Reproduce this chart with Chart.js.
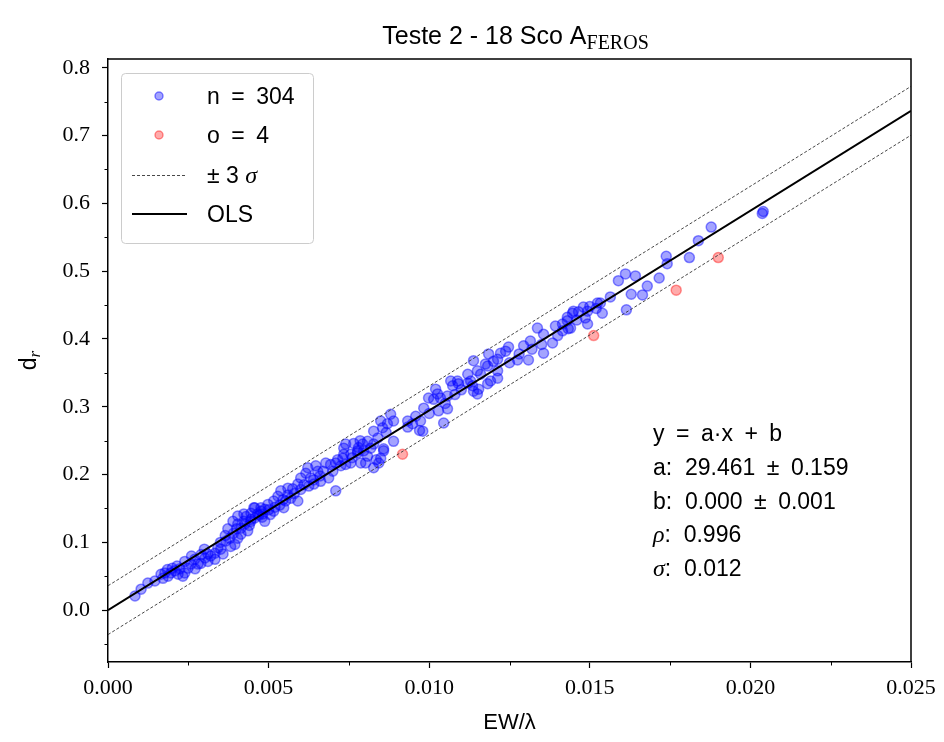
<!DOCTYPE html>
<html>
<head>
<meta charset="utf-8">
<script src="https://cdn.jsdelivr.net/npm/chart.js@4.4.0/dist/chart.umd.min.js"></script>
<style>
  html, body { margin: 0; padding: 0; background: #fff; }
  #wrap { width: 944px; height: 742px; }
</style>
</head>
<body>
<div id="wrap"><canvas id="chart" width="944" height="742"></canvas></div>
<script>
// inliers (n = 304)
const inlierX = [
  0.00084,0.00103,0.00124,0.00146,0.00165,0.00177,0.00187,0.00171,
  0.00196,0.00208,0.00218,0.00224,0.00239,0.00233,0.00249,0.00258,
  0.00271,0.00239,0.00280,0.00289,0.00302,0.00311,0.00320,0.00333,
  0.00311,0.00333,0.00342,0.00351,0.00358,0.00367,0.00379,0.00382,
  0.00395,0.00404,0.00373,0.00414,0.00414,0.00426,0.00435,0.00445,
  0.00457,0.00466,0.00476,0.00488,0.00457,0.00488,0.00389,0.00404,
  0.00423,0.00445,0.00300,0.00290,0.00270,0.00260,0.00350,0.00365,
  0.00390,0.00400,0.00430,0.00440,0.00215,0.00200,0.00185,0.00470,
  0.00480,0.00454,0.00445,0.00423,0.00404,0.00482,0.00476,0.00498,
  0.00516,0.00529,0.00538,0.00560,0.00575,0.00591,0.00641,0.00662,
  0.00569,0.00591,0.00553,0.00516,0.00547,0.00500,0.00505,0.00520,
  0.00535,0.00545,0.00560,0.00580,0.00600,0.00610,0.00625,0.00640,
  0.00660,0.00670,0.00700,0.00715,0.00740,0.00760,0.00780,0.00709,
  0.00600,0.00631,0.00687,0.00616,0.00653,0.00622,0.00647,0.00678,
  0.00693,0.00709,0.00725,0.00740,0.00765,0.00793,0.00777,0.00756,
  0.00734,0.00796,0.00858,0.00843,0.00835,0.00808,0.00802,0.00731,
  0.00756,0.00787,0.00827,0.00849,0.00827,0.00808,0.00785,0.00734,
  0.00777,0.00818,
  0.00889,0.00858,0.00827,0.00840,0.00849,0.00855,0.00866,0.00880,
  0.00889,0.00870,0.00933,0.00970,0.00973,0.00980,0.01045,0.01057,
  0.01029,0.00998,0.00983,0.00958,0.00948,0.00933,0.01020,0.01026,
  0.01035,0.01014,0.01057,0.01138,0.01150,0.01135,0.01067,0.01091,
  0.01120,0.01000,0.01050,0.01100,0.01080,0.01088,0.01073,0.01129,
  0.01154,
  0.01160,0.01191,0.01213,0.01175,0.01185,0.01213,0.01138,0.01150,
  0.01120,0.01213,0.01182,0.01200,0.01182,0.01247,0.01238,0.01222,
  0.01356,0.01309,0.01275,0.01315,0.01294,0.01384,0.01337,0.01356,
  0.01433,0.01415,0.01393,0.01493,0.01480,0.01465,0.01446,0.01486,
  0.01524,0.01539,0.01250,0.01280,0.01320,0.01350,0.01400,0.01430,
  0.01460,0.01500,0.01520,0.01430,0.01440,0.01415,0.01449,0.01493,
  0.01533,
  0.01564,0.01589,0.01611,0.01642,0.01614,0.01629,0.01664,0.01679,
  0.01716,0.01741,0.01738,0.01810,0.01838,0.01878,0.02037,0.02040
];
const inlierY = [
  0.021,0.031,0.040,0.043,0.053,0.055,0.050,0.047,
  0.055,0.058,0.053,0.061,0.055,0.050,0.062,0.068,
  0.061,0.072,0.068,0.069,0.077,0.083,0.080,0.084,
  0.072,0.075,0.092,0.090,0.083,0.102,0.106,0.094,
  0.097,0.106,0.120,0.112,0.121,0.127,0.117,0.131,
  0.151,0.142,0.146,0.131,0.136,0.149,0.131,0.127,
  0.131,0.134,0.090,0.082,0.075,0.080,0.100,0.110,
  0.113,0.120,0.138,0.125,0.065,0.062,0.060,0.140,
  0.137,0.151,0.143,0.142,0.139,0.142,0.151,0.156,
  0.161,0.168,0.176,0.180,0.179,0.186,0.186,0.190,
  0.165,0.161,0.161,0.146,0.151,0.148,0.141,0.152,
  0.155,0.163,0.170,0.172,0.178,0.185,0.183,0.192,
  0.198,0.205,0.205,0.222,0.215,0.225,0.240,0.176,
  0.195,0.195,0.195,0.202,0.205,0.210,0.213,0.217,
  0.215,0.217,0.213,0.245,0.246,0.245,0.235,0.230,
  0.230,0.235,0.235,0.217,0.222,0.227,0.217,0.224,
  0.217,0.217,0.210,0.224,0.245,0.249,0.250,0.239,
  0.232,0.239,
  0.249,0.238,0.264,0.254,0.279,0.269,0.262,0.289,
  0.279,0.275,0.270,0.265,0.279,0.264,0.276,0.297,
  0.294,0.313,0.298,0.286,0.275,0.279,0.326,0.319,
  0.313,0.311,0.316,0.323,0.319,0.331,0.338,0.334,
  0.335,0.290,0.305,0.325,0.318,0.338,0.331,0.338,
  0.326,
  0.348,0.338,0.342,0.363,0.378,0.370,0.368,0.353,
  0.348,0.353,0.360,0.367,0.334,0.388,0.382,0.379,
  0.379,0.369,0.369,0.397,0.390,0.394,0.416,0.407,
  0.415,0.412,0.419,0.422,0.447,0.440,0.438,0.431,
  0.453,0.438,0.365,0.378,0.385,0.392,0.405,0.432,
  0.428,0.448,0.445,0.427,0.416,0.422,0.441,0.441,
  0.453,
  0.462,0.486,0.496,0.493,0.443,0.466,0.465,0.478,
  0.490,0.511,0.522,0.520,0.545,0.565,0.585,0.588
];

// outliers (o = 4)
const outlierX = [0.00917, 0.01512, 0.01769, 0.01900];
const outlierY = [0.230, 0.405, 0.472, 0.520];

// fit: y = a*x + b, with sigma of residuals
const fitA = 29.461;
const fitB = 0.000;
const fitSigma = 0.012;
const lineX = [0, 0.025];

const xTicks = [0, 0.005, 0.010, 0.015, 0.020, 0.025];
const yTicks = [0, 0.1, 0.2, 0.3, 0.4, 0.5, 0.6, 0.7, 0.8];
const xMinor = [0.0025, 0.0075, 0.0125, 0.0175, 0.0225];
const yMinor = [-0.05, 0.05, 0.15, 0.25, 0.35, 0.45, 0.55, 0.65, 0.75];

const SP = '\u2002';
const statLines = [
    'y' + SP + '=' + SP + 'a\u00b7x' + SP + '+' + SP + 'b',
    'a:  29.461' + SP + '\u00b1' + SP + '0.159',
    'b:  0.000' + SP + '\u00b1' + SP + '0.001'
];
const statRho = '0.996';
const statSigma = '0.012';

const SANS = '"Liberation Sans", Arial, sans-serif';
const SERIF = '"Liberation Serif", "DejaVu Serif", serif';

const BLUE_FILL = 'rgba(0,0,255,0.36)';
const BLUE_EDGE = 'rgba(0,0,255,0.45)';
const RED_FILL = 'rgba(255,0,0,0.33)';
const RED_EDGE = 'rgba(255,0,0,0.4)';

const toPoints = (xs, ys) => xs.map((x, i) => ({ x: x, y: ys[i] }));
const fitLine = (shift) => lineX.map(x => ({ x: x, y: fitA * x + fitB + shift }));

// draw a run of text pieces with different fonts on one baseline
function drawRuns(ctx, runs, x, y, align) {
    let total = 0;
    runs.forEach(r => { ctx.font = r.font; total += ctx.measureText(r.text).width; });
    let cx = align === 'center' ? x - total / 2 : x;
    runs.forEach(r => {
        ctx.font = r.font;
        ctx.fillText(r.text, cx, y + (r.dy || 0));
        cx += ctx.measureText(r.text).width;
    });
}

const decorations = {
    id: 'decorations',
    afterDraw(chart) {
        const ctx = chart.ctx;
        const a = chart.chartArea;
        const xs = chart.scales.x, ys = chart.scales.y;
        ctx.save();

        // top and right spines
        ctx.strokeStyle = '#000';
        ctx.lineWidth = 1.5;
        ctx.beginPath();
        ctx.moveTo(a.left, a.top); ctx.lineTo(a.right, a.top); ctx.lineTo(a.right, a.bottom);
        ctx.stroke();

        // minor ticks
        ctx.lineWidth = 1;
        ctx.beginPath();
        xMinor.forEach(v => {
            const px = Math.round(xs.getPixelForValue(v)) + 0.5;
            ctx.moveTo(px, a.bottom); ctx.lineTo(px, a.bottom + 3.5);
        });
        yMinor.forEach(v => {
            const py = Math.round(ys.getPixelForValue(v)) + 0.5;
            ctx.moveTo(a.left, py); ctx.lineTo(a.left - 3.5, py);
        });
        ctx.stroke();

        ctx.fillStyle = '#000';
        ctx.textBaseline = 'alphabetic';
        ctx.textAlign = 'left';

        // title
        const mid = (a.left + a.right) / 2;
        drawRuns(ctx, [
            { text: 'Teste 2 - 18 Sco A', font: '25px ' + SANS },
            { text: 'FEROS', font: '20px ' + SERIF, dy: 5 }
        ], mid + 6, 44, 'center');

        // axis titles
        drawRuns(ctx, [{ text: 'EW/\u03bb', font: '22px ' + SANS }], mid, 729, 'center');
        ctx.save();
        ctx.translate(36, (a.top + a.bottom) / 2);
        ctx.rotate(-Math.PI / 2);
        drawRuns(ctx, [
            { text: 'd', font: '23px ' + SANS },
            { text: 'r', font: 'italic 17px ' + SERIF, dy: 4 }
        ], 0, 0, 'center');
        ctx.restore();

        // legend box
        const bx = 121, by = 73, bw = 192, bh = 170;
        ctx.fillStyle = 'rgba(255,255,255,0.8)';
        ctx.strokeStyle = '#cccccc';
        ctx.lineWidth = 1;
        ctx.beginPath();
        ctx.roundRect(bx + 0.5, by + 0.5, bw, bh, 4);
        ctx.fill(); ctx.stroke();

        const rows = [96, 135, 175, 214];
        ctx.lineWidth = 1.5;
        ctx.fillStyle = BLUE_FILL;
        ctx.strokeStyle = BLUE_EDGE;
        ctx.beginPath(); ctx.arc(159, rows[0], 4, 0, Math.PI * 2); ctx.fill(); ctx.stroke();
        ctx.fillStyle = RED_FILL;
        ctx.strokeStyle = RED_EDGE;
        ctx.beginPath(); ctx.arc(159, rows[1], 4, 0, Math.PI * 2); ctx.fill(); ctx.stroke();

        ctx.strokeStyle = '#333';
        ctx.lineWidth = 0.9;
        ctx.setLineDash([3, 2]);
        ctx.beginPath(); ctx.moveTo(132, rows[2] + 0.5); ctx.lineTo(187, rows[2] + 0.5); ctx.stroke();
        ctx.setLineDash([]);
        ctx.strokeStyle = '#000';
        ctx.lineWidth = 2;
        ctx.beginPath(); ctx.moveTo(132, rows[3]); ctx.lineTo(187, rows[3]); ctx.stroke();

        ctx.fillStyle = '#000';
        const lf = '23px ' + SANS;
        drawRuns(ctx, [{ text: 'n' + SP + '=' + SP + '304', font: lf }], 207, rows[0] + 8, 'left');
        drawRuns(ctx, [{ text: 'o' + SP + '=' + SP + '4', font: lf }], 207, rows[1] + 8, 'left');
        drawRuns(ctx, [
            { text: '\u00b1 3 ', font: lf },
            { text: '\u03c3', font: 'italic 24px ' + SERIF }
        ], 207, rows[2] + 8, 'left');
        drawRuns(ctx, [{ text: 'OLS', font: lf }], 207, rows[3] + 8, 'left');

        // fit statistics
        const sf = '23px ' + SANS;
        const base = [441, 475, 509, 542, 576];
        statLines.forEach((t, i) => drawRuns(ctx, [{ text: t, font: sf }], 653, base[i], 'left'));
        drawRuns(ctx, [
            { text: '\u03c1', font: 'italic 24px ' + SERIF },
            { text: ':  ' + statRho, font: sf }
        ], 653, base[3], 'left');
        drawRuns(ctx, [
            { text: '\u03c3', font: 'italic 24px ' + SERIF },
            { text: ':  ' + statSigma, font: sf }
        ], 653, base[4], 'left');

        ctx.restore();
    }
};

new Chart(document.getElementById('chart'), {
    type: 'scatter',
    data: {
        datasets: [
            {
                label: 'OLS',
                data: fitLine(0),
                showLine: true,
                borderColor: '#000',
                borderWidth: 2,
                pointRadius: 0
            },
            {
                label: '+3 sigma',
                data: fitLine(3 * fitSigma),
                showLine: true,
                borderColor: '#333',
                borderWidth: 0.9,
                borderDash: [3, 2],
                pointRadius: 0
            },
            {
                label: '-3 sigma',
                data: fitLine(-3 * fitSigma),
                showLine: true,
                borderColor: '#333',
                borderWidth: 0.9,
                borderDash: [3, 2],
                pointRadius: 0
            },
            {
                label: 'o = 4',
                data: toPoints(outlierX, outlierY),
                backgroundColor: RED_FILL,
                borderColor: RED_EDGE,
                borderWidth: 1.5,
                pointRadius: 5
            },
            {
                label: 'n = 304',
                data: toPoints(inlierX, inlierY),
                backgroundColor: BLUE_FILL,
                borderColor: BLUE_EDGE,
                borderWidth: 1.5,
                pointRadius: 5
            }
        ]
    },
    options: {
        responsive: false,
        animation: false,
        layout: { padding: { top: 59, right: 33, left: 0, bottom: 0 } },
        plugins: {
            legend: { display: false },
            tooltip: { enabled: false },
            title: { display: false }
        },
        scales: {
            x: {
                type: 'linear',
                min: 0,
                max: 0.025,
                afterBuildTicks: s => { s.ticks = xTicks.map(v => ({ value: v })); },
                afterFit: s => { s.height = 80; },
                ticks: {
                    callback: v => v.toFixed(3),
                    font: { family: SERIF, size: 22 },
                    color: '#000',
                    padding: 7,
                    maxRotation: 0,
                    autoSkip: false
                },
                grid: { drawOnChartArea: false, tickLength: 6, color: '#000', tickWidth: 1.2 },
                border: { color: '#000', width: 1.5 }
            },
            y: {
                type: 'linear',
                min: -0.0764,
                max: 0.8129,
                afterBuildTicks: s => { s.ticks = yTicks.map(v => ({ value: v })); },
                afterFit: s => { s.width = 108; },
                ticks: {
                    callback: v => v.toFixed(1),
                    font: { family: SERIF, size: 22 },
                    color: '#000',
                    padding: 12,
                    autoSkip: false
                },
                grid: { drawOnChartArea: false, tickLength: 6, color: '#000', tickWidth: 1.2 },
                border: { color: '#000', width: 1.5 }
            }
        }
    },
    plugins: [decorations]
});
</script>
</body>
</html>
